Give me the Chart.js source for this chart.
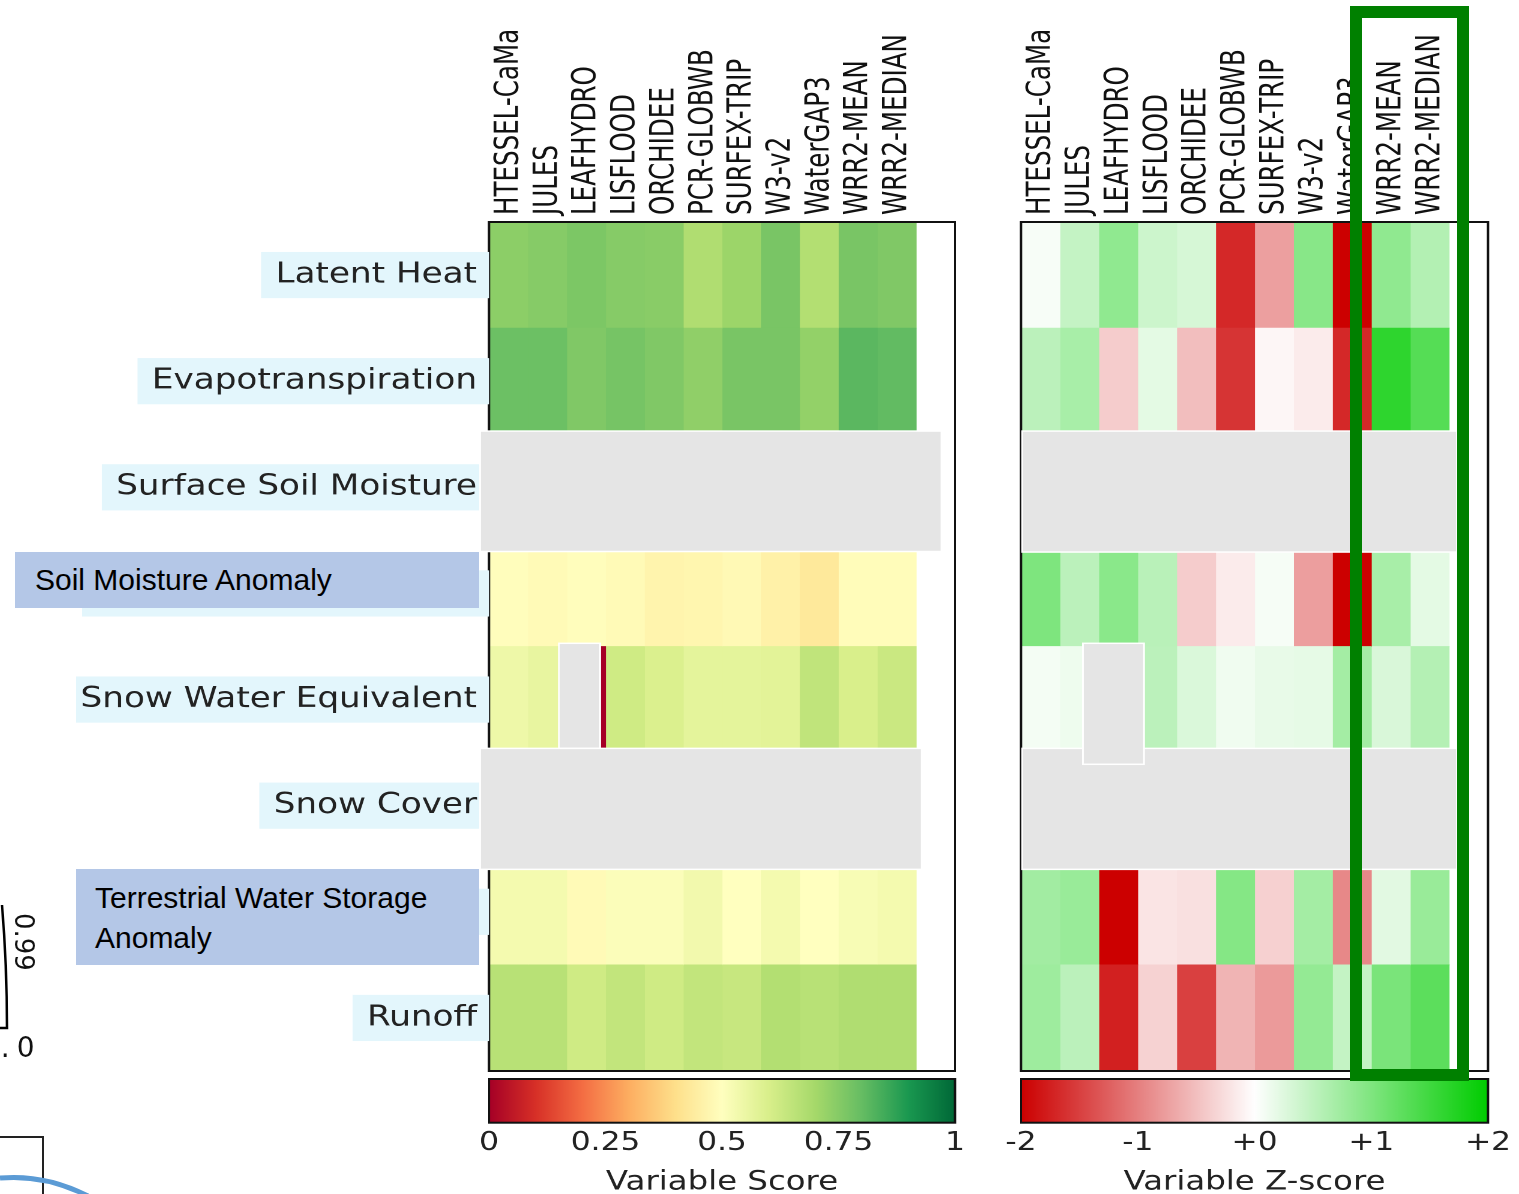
<!DOCTYPE html>
<html>
<head>
<meta charset="utf-8">
<title>Variable scores</title>
<script src="https://cdn.jsdelivr.net/npm/chart.js@4.4.1/dist/chart.umd.min.js"></script>
<style>
  html, body { margin: 0; padding: 0; background: #fff; }
  body { position: relative; width: 1519px; height: 1194px; overflow: hidden; }
  .stretch { position: absolute; transform: scaleX(1.2); transform-origin: 0 0; }
  .note { position: absolute; z-index: 5; background: #b4c7e7; color: #000; box-sizing: border-box;
          font-family: "Liberation Sans", Arial, sans-serif; font-size: 30px; white-space: nowrap; }
  #highlight { position: absolute; z-index: 6; left: 1350px; top: 6px; width: 119px; height: 1075px;
               border: 12px solid #008000; box-sizing: border-box; }
</style>
</head>
<body>
<div class="note" style="left:15px;top:552px;width:464px;height:56px;line-height:56px;padding-left:20px;">Soil Moisture Anomaly</div>
<div class="note" style="left:76px;top:869px;width:403px;height:96px;line-height:40px;padding:9px 0 0 19px;">Terrestrial Water Storage<br>Anomaly</div>
<div id="highlight"></div>
<svg width="120" height="394" style="position:absolute;left:0;top:800px">
  <path d="M2,105 Q7,165 7,228 L0,228" stroke="#000" stroke-width="2.5" fill="none"/>
  <text transform="translate(15,113) rotate(90)" font-family="DejaVu Sans" font-size="26" fill="#111">0.99</text>
  <text x="-24" y="257" font-family="DejaVu Sans" font-size="28" letter-spacing="7" fill="#111">1.0</text>
  <path d="M0,337 H43 V394" stroke="#222" stroke-width="2" fill="none"/>
  <path d="M0,378 Q45,374 88,396" stroke="#5b9bd5" stroke-width="5" fill="none"/>
</svg>
<script>
const SX = 1.2; // the panels are drawn narrower and stretched sideways

const models = ['HTESSEL-CaMa', 'JULES', 'LEAFHYDRO', 'LISFLOOD', 'ORCHIDEE', 'PCR-GLOBWB',
                'SURFEX-TRIP', 'W3-v2', 'WaterGAP3', 'WRR2-MEAN', 'WRR2-MEDIAN'];
const variables = ['Latent Heat', 'Evapotranspiration', 'Surface Soil Moisture', 'Soil Moisture Anomaly',
                   'Snow Water Equivalent', 'Snow Cover', 'Terrestrial Water Storage Anomaly', 'Runoff'];

// variable score per model (0..1), null where the variable was not scored
const scoreLatentHeat     = [0.74, 0.75, 0.765, 0.75, 0.745, 0.68, 0.715, 0.77, 0.675, 0.77, 0.76];
const scoreEvapotransp    = [0.79, 0.79, 0.76, 0.775, 0.76, 0.735, 0.77, 0.77, 0.73, 0.815, 0.805];
const scoreSurfaceSoil    = [null, null, null, null, null, null, null, null, null, null, null];
const scoreSoilAnomaly    = [0.495, 0.485, 0.495, 0.485, 0.465, 0.47, 0.48, 0.455, 0.43, 0.49, 0.49];
const scoreSnowWater      = [0.545, 0.56, 0.0, 0.62, 0.595, 0.57, 0.57, 0.575, 0.65, 0.6, 0.63];
const scoreSnowCover      = [null, null, null, null, null, null, null, null, null, null, null];
const scoreWaterStorage   = [0.53, 0.53, 0.485, 0.51, 0.51, 0.535, 0.5, 0.53, 0.5, 0.52, 0.53];
const scoreRunoff         = [0.665, 0.665, 0.62, 0.645, 0.62, 0.645, 0.635, 0.675, 0.665, 0.68, 0.68];

// variable z-score per model
const zLatentHeat   = [0.06, 0.46, 0.87, 0.4, 0.32, -1.69, -0.75, 0.93, -2.0, 0.87, 0.6];
const zEvapotransp  = [0.53, 0.68, -0.4, 0.21, -0.51, -1.59, -0.07, -0.16, -1.69, 1.64, 1.33];
const zSurfaceSoil  = [null, null, null, null, null, null, null, null, null, null, null];
const zSoilAnomaly  = [1.01, 0.53, 0.92, 0.55, -0.4, -0.16, 0.07, -0.76, -2.0, 0.68, 0.21];
const zSnowWater    = [0.09, 0.13, null, 0.53, 0.29, 0.12, 0.18, 0.2, 0.71, 0.3, 0.59];
const zSnowCover    = [null, null, null, null, null, null, null, null, null, null, null];
const zWaterStorage = [0.73, 0.8, -2.0, -0.21, -0.24, 0.96, -0.37, 0.71, -0.93, 0.23, 0.8];
const zRunoff       = [0.76, 0.53, -1.75, -0.35, -1.5, -0.59, -0.79, 0.84, 0.46, 1.04, 1.28];

const scoreTicks = [0, 0.25, 0.5, 0.75, 1];
const scoreTickLabels = ['0', '0.25', '0.5', '0.75', '1'];
const zTicks = [-2, -1, 0, 1, 2];
const zTickLabels = ['-2', '-1', '+0', '+1', '+2'];

const scoreRows = [scoreLatentHeat, scoreEvapotransp, scoreSurfaceSoil, scoreSoilAnomaly,
                   scoreSnowWater, scoreSnowCover, scoreWaterStorage, scoreRunoff];
const zRows = [zLatentHeat, zEvapotransp, zSurfaceSoil, zSoilAnomaly,
               zSnowWater, zSnowCover, zWaterStorage, zRunoff];

// colour maps
const rdYlGn = ['#a50026', '#d73027', '#f46d43', '#fdae61', '#fee08b', '#ffffbf',
                '#d9ef8b', '#a6d96a', '#66bd63', '#1a9850', '#006837'];
const zLow = [204, 0, 0], zMid = [255, 255, 255], zHigh = [0, 204, 0];

function hexRgb(h) { const n = parseInt(h.slice(1), 16); return [n >> 16, (n >> 8) & 255, n & 255]; }
function mix(a, b, t) { return a.map((v, k) => Math.round(v + (b[k] - v) * t)); }
function rgb(c) { return 'rgb(' + c.join(',') + ')'; }

function scoreColor(v) {
  const p = Math.min(Math.max(v, 0), 1) * (rdYlGn.length - 1);
  const i = Math.min(Math.floor(p), rdYlGn.length - 2);
  return rgb(mix(hexRgb(rdYlGn[i]), hexRgb(rdYlGn[i + 1]), p - i));
}
function zColor(z) {
  const t = Math.max(-1, Math.min(1, z / 2));
  return rgb(t < 0 ? mix(zMid, zLow, -t) : mix(zMid, zHigh, t));
}

// grey cover-ups for variables without data (x in columns, y in rows)
const scorePatches = [
  { x0: -0.23, x1: 11.65, y0: 1.97, y1: 3.105 },
  { x0: 1.80, x1: 2.86, y0: 3.97, y1: 4.96 },
  { x0: -0.23, x1: 11.14, y0: 4.96, y1: 6.10 }
];
const zPatches = [
  { x0: 0.03, x1: 11.2, y0: 1.97, y1: 3.11 },
  { x0: 0.03, x1: 11.2, y0: 4.96, y1: 6.10 },
  { x0: 1.59, x1: 3.16, y0: 3.97, y1: 5.11 }
];

function makeCanvas(left, top, right, bottom) {
  const wrap = document.createElement('div');
  wrap.className = 'stretch';
  wrap.style.left = left + 'px';
  wrap.style.top = top + 'px';
  const canvas = document.createElement('canvas');
  canvas.width = Math.round((right - left) / SX);
  canvas.height = bottom - top;
  wrap.appendChild(canvas);
  document.body.insertBefore(wrap, document.body.firstChild);
  return canvas;
}

const framePlugin = {
  id: 'frame',
  afterDatasetsDraw(chart) {
    const { ctx, chartArea: a } = chart;
    ctx.save();
    ctx.strokeStyle = '#111';
    ctx.lineWidth = 2;
    ctx.strokeRect(a.left, a.top, a.right - a.left, a.bottom - a.top);
    ctx.restore();
  }
};

function patchPlugin(boxes) {
  return {
    id: 'patches',
    afterDraw(chart) {
      const { ctx, chartArea: a, scales: { x } } = chart;
      const rowH = (a.bottom - a.top) / variables.length;
      ctx.save();
      ctx.fillStyle = '#e5e5e5';
      ctx.strokeStyle = '#ffffff';
      ctx.lineWidth = 1.5;
      boxes.forEach(b => {
        const x0 = x.getPixelForValue(b.x0), x1 = x.getPixelForValue(b.x1);
        const y0 = a.top + b.y0 * rowH, y1 = a.top + b.y1 * rowH;
        ctx.fillRect(x0, y0, x1 - x0, y1 - y0);
        ctx.strokeRect(x0, y0, x1 - x0, y1 - y0);
      });
      ctx.restore();
    }
  };
}

function heatmap(pageLeft, pageRight, plotLeft, plotRight, rows, colorFn, showRows, boxes) {
  const canvas = makeCanvas(pageLeft, 0, pageRight, 1075);
  const inner = px => (px - pageLeft) / SX;
  const colFont = { family: "'DejaVu Sans Condensed', 'DejaVu Sans', sans-serif", size: 27.3 };
  new Chart(canvas, {
    type: 'bar',
    data: {
      labels: variables,
      datasets: models.map((m, i) => ({
        label: m,
        data: rows.map(r => r[i] == null ? null : [i, i + 1]),
        backgroundColor: rows.map(r => r[i] == null ? 'rgba(0,0,0,0)' : colorFn(r[i])),
        borderWidth: 0,
        barPercentage: 1,
        categoryPercentage: 1,
        grouped: false
      }))
    },
    options: {
      indexAxis: 'y',
      responsive: false,
      animation: false,
      devicePixelRatio: 2,
      layout: { padding: { left: 0, right: canvas.width - inner(plotRight), top: 0, bottom: 4 } },
      plugins: { legend: { display: false }, tooltip: { enabled: false } },
      scales: {
        x: {
          type: 'linear', position: 'top', min: 0, max: models.length + 1,
          grid: { display: false, drawTicks: false }, border: { display: false },
          afterBuildTicks: s => { s.ticks = models.map((m, i) => ({ value: i + 0.5 })); },
          afterFit: s => { s.height = 222; s.paddingLeft = 0; s.paddingRight = 0; },
          ticks: {
            autoSkip: false, minRotation: 90, maxRotation: 90, padding: 7, labelOffset: 33.3,
            color: '#111', font: colFont, callback: (v, i) => models[i]
          }
        },
        y: {
          display: showRows,
          grid: { display: false, drawTicks: false }, border: { display: false },
          // the row-label column (or an empty margin) ends where the grid starts
          afterFit: s => { s.width = inner(plotLeft); s.paddingTop = 0; s.paddingBottom = 0; },
          ticks: {
            z: 1, padding: 10, color: '#222', font: { family: 'DejaVu Sans', size: 28.5 },
            showLabelBackdrop: true, backdropColor: '#e3f6fc',
            backdropPadding: { left: 12, right: 11, top: 6, bottom: 6 }
          }
        }
      }
    },
    plugins: [framePlugin, patchPlugin(boxes)]
  });
}

function gradientPlugin(colors) {
  return {
    id: 'colorbar',
    afterDraw(chart) {
      const { ctx, chartArea: a } = chart;
      const g = ctx.createLinearGradient(a.left, 0, a.right, 0);
      colors.forEach((c, k) => g.addColorStop(k / (colors.length - 1), c));
      ctx.save();
      ctx.fillStyle = g;
      ctx.fillRect(a.left, a.top, a.right - a.left, a.bottom - a.top);
      ctx.strokeStyle = '#111';
      ctx.lineWidth = 2;
      ctx.strokeRect(a.left, a.top, a.right - a.left, a.bottom - a.top);
      ctx.restore();
    }
  };
}

function colorbar(pageLeft, pageRight, plotLeft, plotRight, colors, ticks, labels, title) {
  const canvas = makeCanvas(pageLeft, 1074, pageRight, 1204);
  const inner = px => (px - pageLeft) / SX;
  new Chart(canvas, {
    type: 'scatter',
    data: { datasets: [] },
    options: {
      responsive: false,
      animation: false,
      devicePixelRatio: 2,
      layout: { padding: { left: inner(plotLeft), right: canvas.width - inner(plotRight), top: 5, bottom: 0 } },
      plugins: { legend: { display: false }, tooltip: { enabled: false } },
      scales: {
        x: {
          type: 'linear', position: 'bottom', min: ticks[0], max: ticks[ticks.length - 1],
          grid: { display: false, drawTicks: false }, border: { display: false },
          afterBuildTicks: s => { s.ticks = ticks.map(v => ({ value: v })); },
          afterFit: s => { s.height = 1204 - 1122.7; s.paddingLeft = 0; s.paddingRight = 0; },
          ticks: {
            maxRotation: 0, autoSkip: false, padding: 4.7, color: '#222',
            font: { family: 'DejaVu Sans', size: 26 }, callback: (v, i) => labels[i]
          },
          title: {
            display: true, text: title, color: '#222',
            font: { family: 'DejaVu Sans', size: 27 }, padding: { top: 0, bottom: 5.5 }
          }
        },
        y: { display: false }
      }
    },
    plugins: [gradientPlugin(colors)]
  });
}

heatmap(76, 962, 489, 955, scoreRows, scoreColor, true, scorePatches);
heatmap(1010, 1492, 1021, 1488, zRows, zColor, false, zPatches);
colorbar(459, 989, 489, 955, rdYlGn, scoreTicks, scoreTickLabels, 'Variable Score');
colorbar(991, 1519, 1021, 1488, [rgb(zLow), rgb(zMid), rgb(zHigh)], zTicks, zTickLabels, 'Variable Z-score');
</script>
</body>
</html>
